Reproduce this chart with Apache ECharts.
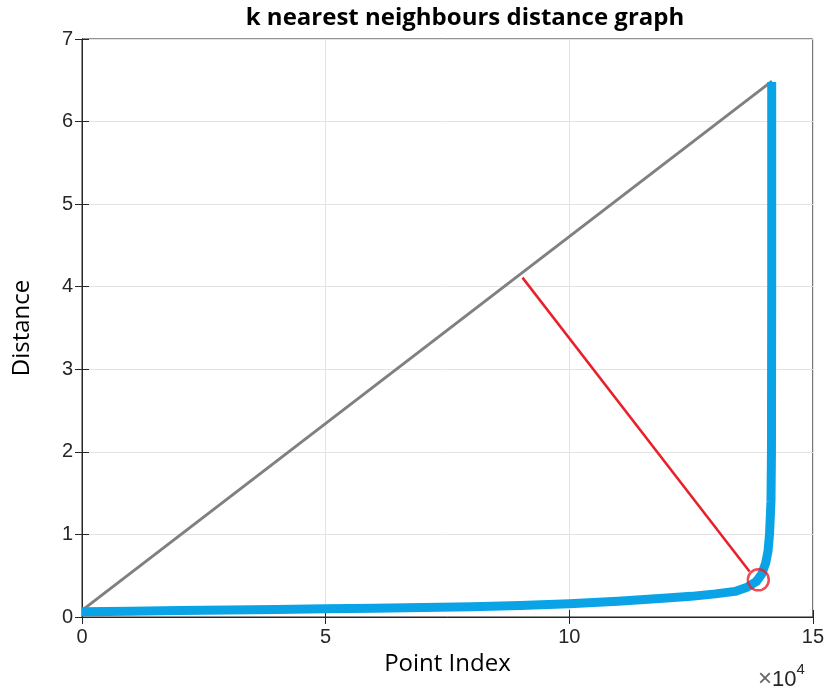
<!DOCTYPE html>
<html>
<head>
<meta charset="utf-8">
<script src="https://cdn.jsdelivr.net/npm/echarts@6/dist/echarts.min.js"></script>
<style>html,body{margin:0;padding:0;background:#fff;}#c{width:827px;height:690px;}</style>
</head>
<body>
<div id="c"></div>
<script>
// Sorted k-distance curve (point index, distance)
const curveIndex = [0, 10000, 20000, 30000, 40000, 50000, 60000, 70000, 80000, 90000, 100000, 110000, 120000, 125000, 130000, 134000, 136500, 138400, 139500, 140300, 140800, 141100, 141400, 141500, 141550, 141550];
const curveDist  = [0.065, 0.07, 0.078, 0.085, 0.09, 0.10, 0.105, 0.115, 0.125, 0.14, 0.16, 0.19, 0.23, 0.25, 0.28, 0.31, 0.36, 0.43, 0.52, 0.65, 0.8, 1.0, 1.4, 2.0, 4.0, 6.48];
// Chord from first to last point
const chordIndex = [0, 141600];
const chordDist  = [0.08, 6.49];
// Perpendicular distance line to knee
const perpIndex = [90400, 137000];
const perpDist  = [4.11, 0.55];
// Knee point
const kneeIndex = [138800];
const kneeDist  = [0.45];
// Axis ticks
const xTicks = [0, 5, 10, 15];
const yTicks = [0, 1, 2, 3, 4, 5, 6, 7];

const zip = (a, b) => a.map((v, i) => [v, b[i]]);
const tickColor = '#262626';
const labelFont = 'Liberation Sans';

const chart = echarts.init(document.getElementById('c'));
chart.setOption({
  animation: false,
  backgroundColor: '#fff',
  title: {
    text: 'k nearest neighbours distance graph',
    left: 460, top: 1, textAlign: 'center',
    textStyle: { fontFamily: 'Open Sans', fontWeight: 'bold', fontSize: 24, color: '#000' }
  },
  grid: { left: 82, right: 10, top: 39, bottom: 73, show: true, borderColor: '#262626', borderWidth: 1 },
  xAxis: [{
    type: 'value', min: 0, max: 150000, interval: 50000,
    name: 'Point Index', nameLocation: 'middle', nameGap: 33,
    nameTextStyle: { fontFamily: 'Open Sans', fontSize: 24, color: '#000' },
    axisLine: { show: true, onZero: false, lineStyle: { color: tickColor } },
    axisTick: { show: true, inside: true, length: 7, lineStyle: { color: tickColor } },
    axisLabel: { formatter: v => String(v / 10000), fontFamily: labelFont, fontSize: 20, color: tickColor, margin: 10 },
    splitLine: { show: true, lineStyle: { color: '#e3e3e3', width: 1 } }
  }, {
    type: 'value', min: 0, max: 150000, interval: 50000, position: 'top',
    axisLine: { show: true, lineStyle: { color: tickColor } },
    axisTick: { show: true, inside: true, length: 7, lineStyle: { color: tickColor } },
    axisLabel: { show: false }, splitLine: { show: false }
  }],
  yAxis: [{
    type: 'value', min: 0, max: 7, interval: 1,
    name: 'Distance', nameLocation: 'middle', nameGap: 48,
    nameTextStyle: { fontFamily: 'Open Sans', fontSize: 24, color: '#000' },
    axisLine: { show: true, onZero: false, lineStyle: { color: tickColor } },
    axisTick: { show: true, inside: true, length: 7, lineStyle: { color: tickColor } },
    axisLabel: { fontFamily: labelFont, fontSize: 20, color: tickColor, margin: 9 },
    splitLine: { show: true, lineStyle: { color: '#e3e3e3', width: 1 } }
  }, {
    type: 'value', min: 0, max: 7, interval: 1, position: 'right',
    axisLine: { show: true, lineStyle: { color: tickColor } },
    axisTick: { show: true, inside: true, length: 7, lineStyle: { color: tickColor } },
    axisLabel: { show: false }, splitLine: { show: false }
  }],
  graphic: [{
    type: 'text', left: 758, top: 662,
    style: {
      text: '{x|×}{b|10}{s|4}',
      rich: {
        x: { fontFamily: labelFont, fontSize: 24, fill: '#666', verticalAlign: 'bottom' },
        b: { fontFamily: labelFont, fontSize: 22, fill: tickColor, verticalAlign: 'bottom' },
        s: { fontFamily: labelFont, fontSize: 15, fill: tickColor, verticalAlign: 'top', padding: [0, 0, 14, 0] }
      }
    }
  }],
  series: [{
    type: 'line', data: zip(chordIndex, chordDist), symbol: 'none',
    lineStyle: { color: '#808080', width: 3 }, z: 2
  }, {
    type: 'line', data: zip(curveIndex, curveDist), symbol: 'none', smooth: false,
    lineStyle: { color: '#0aa3e6', width: 9, cap: 'butt', join: 'round' }, z: 3
  }, {
    type: 'line', data: zip(perpIndex, perpDist), symbol: 'none',
    lineStyle: { color: '#e8202a', width: 2.5 }, z: 4
  }, {
    type: 'scatter', data: zip(kneeIndex, kneeDist), symbol: 'circle', symbolSize: 21,
    itemStyle: { color: 'rgba(0,0,0,0)', borderColor: '#e8202a', borderWidth: 2.5 }, z: 5
  }]
});
</script>
</body>
</html>
